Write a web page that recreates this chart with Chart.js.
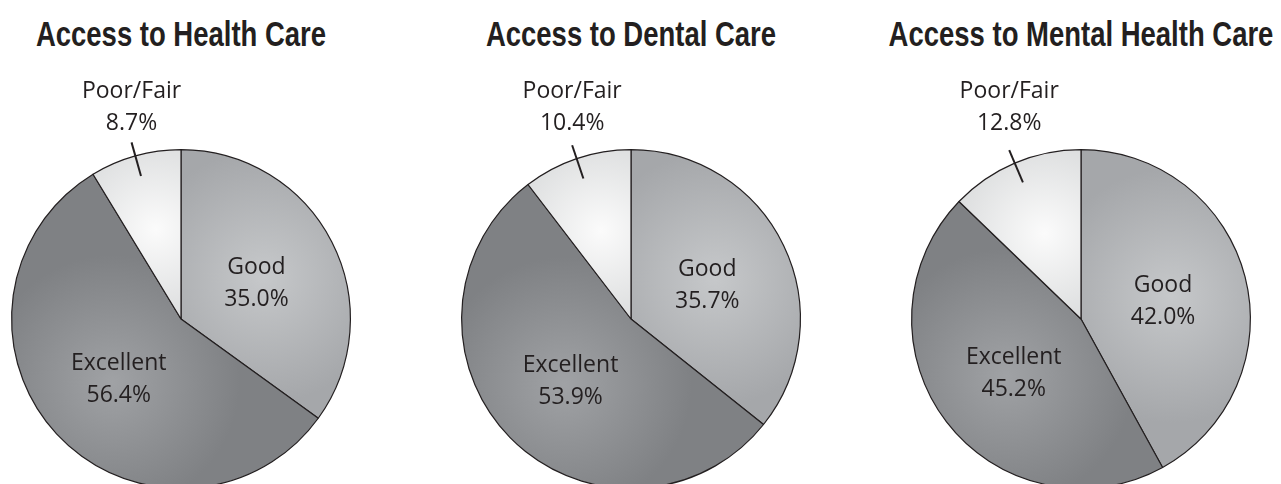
<!DOCTYPE html>
<html>
<head>
<meta charset="utf-8">
<script src="https://cdn.jsdelivr.net/npm/chart.js@4/dist/chart.umd.min.js"></script>
<style>
  html, body { margin: 0; padding: 0; width: 1281px; height: 484px; overflow: hidden; background: #fff; }
  .title {
    position: absolute; top: 16px; width: 600px; text-align: center;
    font: bold 35px "Liberation Sans", Arial, sans-serif;
    line-height: 35px; color: #231f20; white-space: nowrap;
    transform: scaleX(0.785); transform-origin: 50% 50%;
  }
  .pie { position: absolute; top: 0; width: 400px; height: 520px; }
</style>
</head>
<body>
<div class="title" style="left:-119px">Access to Health Care</div>
<div class="title" style="left:331px">Access to Dental Care</div>
<div class="title" style="left:781px">Access to Mental Health Care</div>

<div class="pie" style="left:-19px"><canvas id="healthChart"></canvas></div>
<div class="pie" style="left:431px"><canvas id="dentalChart"></canvas></div>
<div class="pie" style="left:881px"><canvas id="mentalChart"></canvas></div>

<script>
// Rating categories, clockwise from 12 o'clock
const categories = ["Good", "Excellent", "Poor/Fair"];

// Percent of respondents per rating
const healthCare = [35.0, 56.4, 8.7];
const dentalCare = [35.7, 53.9, 10.4];
const mentalHealthCare = [42.0, 45.2, 12.8];

// light centre / dark rim for each slice's radial shading
const shadeLight = ["#c6c8ca", "#a0a2a5", "#fbfbfb"];
const shadeDark = ["#a5a7aa", "#7f8184", "#d0d2d3"];

const ink = "#231f20";
const labelFont = '23px "Open Sans", sans-serif';

function sliceGradient(context) {
  const chart = context.chart;
  const area = chart.chartArea;
  const i = context.dataIndex;
  if (!area) return shadeDark[i];
  const data = context.dataset.data;
  const total = data.reduce((a, b) => a + b, 0);
  let before = 0;
  for (let k = 0; k < i; k++) before += data[k];
  const mid = -Math.PI / 2 + (before + data[i] / 2) / total * Math.PI * 2;
  const cx = (area.left + area.right) / 2;
  const cy = (area.top + area.bottom) / 2;
  const r = (Math.min(area.width, area.height) - 1) / 2;
  const gx = cx + Math.cos(mid) * r * 0.55;
  const gy = cy + Math.sin(mid) * r * 0.55;
  const g = chart.ctx.createRadialGradient(gx, gy, 0, gx, gy, r * 0.75);
  g.addColorStop(0, shadeLight[i]);
  g.addColorStop(1, shadeDark[i]);
  return g;
}

// writes the rating + percent on each slice; the small slice gets a leader line
const sliceLabels = {
  id: "sliceLabels",
  afterDatasetsDraw(chart) {
    const ctx = chart.ctx;
    const meta = chart.getDatasetMeta(0);
    const values = chart.data.datasets[0].data;
    ctx.save();
    ctx.font = labelFont;
    ctx.fillStyle = ink;
    ctx.strokeStyle = ink;
    ctx.textAlign = "center";
    ctx.textBaseline = "alphabetic";
    meta.data.forEach((arc, i) => {
      const p = arc.getProps(["x", "y", "startAngle", "endAngle", "outerRadius"], true);
      const mid = (p.startAngle + p.endAngle) / 2;
      const name = chart.data.labels[i];
      const pct = values[i].toFixed(1) + "%";
      if (i < 2) {
        const lx = p.x + Math.cos(mid) * p.outerRadius * 0.5;
        const ly = p.y + Math.sin(mid) * p.outerRadius * 0.5;
        ctx.fillText(name, lx, ly - 6);
        ctx.fillText(pct, lx, ly + 26);
      } else {
        const ix = p.x + Math.cos(mid) * (p.outerRadius - 21);
        const iy = p.y + Math.sin(mid) * (p.outerRadius - 21);
        const ox = p.x + Math.cos(mid) * (p.outerRadius + 14);
        const oy = p.y + Math.sin(mid) * (p.outerRadius + 14);
        ctx.lineWidth = 2;
        ctx.beginPath();
        ctx.moveTo(ix, iy);
        ctx.lineTo(ox, oy);
        ctx.stroke();
        // label sits a fixed distance above the top of the pie
        const top = p.y - p.outerRadius;
        ctx.fillText(name, ox, top - 52);
        ctx.fillText(pct, ox, top - 20);
      }
    });
    ctx.restore();
  }
};

function drawPie(canvas, values) {
  new Chart(canvas, {
    type: "pie",
    data: {
      labels: categories,
      datasets: [{
        data: values,
        backgroundColor: sliceGradient,
        borderColor: ink,
        borderWidth: 1.2
      }]
    },
    options: {
      responsive: true,
      maintainAspectRatio: false,
      animation: false,
      layout: { padding: { left: 30, right: 30, top: 149, bottom: 31 } },
      plugins: {
        legend: { display: false },
        tooltip: { enabled: false }
      }
    },
    plugins: [sliceLabels]
  });
}

drawPie(document.getElementById("healthChart"), healthCare);
drawPie(document.getElementById("dentalChart"), dentalCare);
drawPie(document.getElementById("mentalChart"), mentalHealthCare);
</script>
</body>
</html>
